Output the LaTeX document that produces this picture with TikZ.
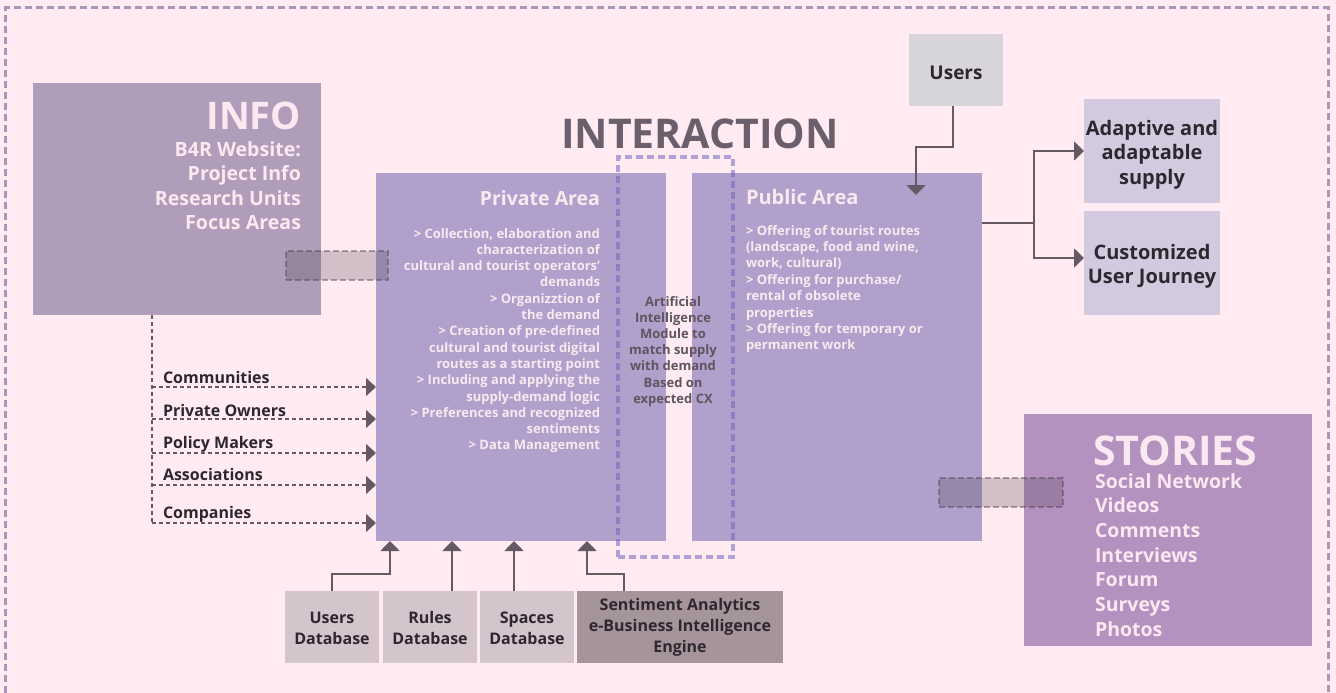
\documentclass[tikz,border=0pt]{standalone}
\usepackage{fontspec}
\setmainfont{Open Sans}
\usetikzlibrary{arrows.meta}
\definecolor{bgc}{HTML}{FFEBF1}
\definecolor{borderc}{HTML}{A898B8}
\definecolor{infoc}{HTML}{B09DB9}
\definecolor{areac}{HTML}{B1A0CB}
\definecolor{storyc}{HTML}{B392C0}
\definecolor{userc}{HTML}{D8D4DC}
\definecolor{resc}{HTML}{D3CAE0}
\definecolor{dbc}{HTML}{D4C4CC}
\definecolor{sentc}{HTML}{A59499}
\definecolor{arrowc}{HTML}{655A64}
\definecolor{darkt}{HTML}{2F2730}
\definecolor{titlet}{HTML}{6B5F6B}
\definecolor{lightt}{HTML}{FCE8F0}
\definecolor{ait}{HTML}{5E5560}
\definecolor{aidash}{RGB}{115,105,190}
\definecolor{overc}{RGB}{77,65,79}
\newcommand{\myfs}[2]{\fontsize{#1}{#2}\selectfont\bfseries}
\newcommand{\myRL}[1]{\begin{tabular}[t]{@{}r@{}}#1\end{tabular}}
\newcommand{\myLL}[1]{\begin{tabular}[t]{@{}l@{}}#1\end{tabular}}
\newcommand{\myCL}[1]{\begin{tabular}[t]{@{}c@{}}#1\end{tabular}}
\begin{document}
\begin{tikzpicture}[x=1pt,y=-1pt,
  box/.style={rectangle, inner sep=0pt, outer sep=0pt, draw=none},
  txt/.style={inner sep=0pt, outer sep=0pt},
  arr/.style={draw=arrowc, line width=1.8pt, -{Triangle[length=10pt,width=19pt]}},
  plainline/.style={draw=arrowc, line width=1.8pt},
  dashl/.style={draw=arrowc, line width=1.5pt, dash pattern=on 4pt off 3pt},
  dasharr/.style={dashl, -{Triangle[length=10pt,width=18pt]}},
  overlay/.style={box, fill=overc, fill opacity=0.25, draw=overc, draw opacity=0.45,
     dash pattern=on 6pt off 3pt, line width=1.5pt, minimum height=29pt}]
\path[fill=bgc] (0,0) rectangle (1336,693);
\useasboundingbox (0,0) rectangle (1336,693);
\draw[borderc, line width=3pt, dash pattern=on 7pt off 4pt] (5.7,693) -- (5.7,8) -- (1328,8) -- (1328,693);

% boxes
\node[box, fill=infoc, minimum width=288pt, minimum height=232pt] (info) at (177,199) {};
\node[box, fill=areac, minimum width=290pt, minimum height=368pt] (private) at (521,357) {};
\node[box, fill=areac, minimum width=290pt, minimum height=368pt] (public) at (837,357) {};
\node[box, fill=userc, minimum width=94pt, minimum height=72pt] (users) at (956,70) {};
\node[box, fill=resc, minimum width=136pt, minimum height=104pt] (adaptive) at (1152,151) {};
\node[box, fill=resc, minimum width=136pt, minimum height=104pt] (customized) at (1152,263) {};
\node[box, fill=storyc, minimum width=288pt, minimum height=232pt] (stories) at (1168,530) {};
\node[box, fill=dbc, minimum width=94pt, minimum height=72pt] (usersdb) at (332,627) {};
\node[box, fill=dbc, minimum width=94pt, minimum height=72pt] (rulesdb) at (430,627) {};
\node[box, fill=dbc, minimum width=94pt, minimum height=72pt] (spacesdb) at (527,627) {};
\node[box, fill=sentc, minimum width=206pt, minimum height=72pt] (sentiment) at (680,627) {};
\node[box, draw=aidash, draw opacity=0.56, line width=4pt, dash pattern=on 7pt off 4pt,
      minimum width=115pt, minimum height=400pt] (ai) at (675.5,357) {};

% texts
\node[txt, anchor=base east, text=lightt, font=\myfs{38}{38}] (infotitle) at (301,129) {INFO};
\node[txt, anchor=base east, text=lightt, font=\myfs{19.6}{24.5}] (infotext) at (301,156)
  {\myRL{B4R Website:\\Project Info\\Research Units\\Focus Areas}};
\node[txt, anchor=base, text=titlet, font=\myfs{41}{41}] (inter) at (700,148) {INTERACTION};
\node[txt, anchor=base east, text=lightt, font=\myfs{19.5}{19.5}] (privtitle) at (600,205) {Private Area};
\node[txt, anchor=base east, text=lightt, font=\myfs{13}{16.3}] (privtext) at (600,238)
  {\myRL{> Collection, elaboration and\\characterization of\\cultural and tourist operators'\\demands\\> Organizztion of\\the demand\\> Creation of pre-defined\\cultural and tourist digital\\routes as a starting point\\> Including and applying the\\supply-demand logic\\> Preferences and recognized\\sentiments\\> Data Management}};
\node[txt, anchor=base, text=ait, font=\myfs{13}{16.2}] (aitext) at (673,306)
  {\myCL{Artificial\\Intelligence\\Module to\\match supply\\with demand\\Based on\\expected CX}};
\node[txt, anchor=base west, text=lightt, font=\myfs{20}{20}] (pubtitle) at (746,204) {Public Area};
\node[txt, anchor=base west, text=lightt, font=\myfs{13}{16.4}] (pubtext) at (746,235)
  {\myLL{> Offering of tourist routes\\(landscape, food and wine,\\work, cultural)\\> Offering for purchase/\\rental of obsolete\\properties\\> Offering for temporary or\\permanent work}};
\node[txt, anchor=base, text=darkt, font=\myfs{19}{19}] (userstext) at (956,79) {Users};
\node[txt, anchor=base, text=darkt, font=\myfs{20}{24.5}] (adaptivetext) at (1152,135)
  {\myCL{Adaptive and\\adaptable\\supply}};
\node[txt, anchor=base, text=darkt, font=\myfs{20}{24.5}] (customtext) at (1152,259)
  {\myCL{Customized\\User Journey}};
\node[txt, anchor=base west, text=lightt, font=\myfs{41}{41}] (storiestitle) at (1093,465) {STORIES};
\node[txt, anchor=base west, text=lightt, font=\myfs{19.5}{24.7}] (storiestext) at (1095,488)
  {\myLL{Social Network\\Videos\\Comments\\Interviews\\Forum\\Surveys\\Photos}};
\node[txt, anchor=base west, text=darkt, font=\myfs{16}{16}] (lcomm) at (163,383) {Communities};
\node[txt, anchor=base west, text=darkt, font=\myfs{16}{16}] (lpriv) at (163,416) {Private Owners};
\node[txt, anchor=base west, text=darkt, font=\myfs{16}{16}] (lpol) at (163,448) {Policy Makers};
\node[txt, anchor=base west, text=darkt, font=\myfs{16}{16}] (lass) at (163,480) {Associations};
\node[txt, anchor=base west, text=darkt, font=\myfs{16}{16}] (lcomp) at (163,518) {Companies};
\node[txt, anchor=base, text=darkt, font=\myfs{16}{21}] (usersdbtext) at (332,623) {\myCL{Users\\Database}};
\node[txt, anchor=base, text=darkt, font=\myfs{16}{21}] (rulesdbtext) at (430,623) {\myCL{Rules\\Database}};
\node[txt, anchor=base, text=darkt, font=\myfs{16}{21}] (spacesdbtext) at (527,623) {\myCL{Spaces\\Database}};
\node[txt, anchor=base, text=darkt, font=\myfs{16}{21}] (senttext) at (680,610)
  {\myCL{Sentiment Analytics\\e-Business Intelligence\\Engine}};

% connectors
\coordinate (udown) at (916,195);
\draw[arr] ([xshift=-3pt]users.south) -- ++(0,41) -| (udown);

\coordinate (split) at (1034,223);
\draw[plainline] (split -| public.east) -- (split);
\draw[arr] (split) |- (adaptive.west);
\draw[arr] (split) |- ([yshift=5pt]customized.west);

\coordinate (lv0) at (152,315);
\coordinate (r1) at (152,387);
\coordinate (r2) at (152,419);
\coordinate (r3) at (152,453);
\coordinate (r4) at (152,485);
\coordinate (r5) at (152,523);
\draw[dashl] (lv0) -- (r5);
\foreach \r in {r1,r2,r3,r4,r5} \draw[dasharr] (\r) -- (\r -| private.west);

\coordinate (pb1) at (390,541);
\coordinate (pb4) at (587,541);
\draw[arr] (usersdb.north) -- ++(0,-17) -| (pb1);
\draw[arr] ([xshift=22pt]rulesdb.north) -- ([xshift=22pt]rulesdb.north |- private.south);
\draw[arr] ([xshift=-13pt]spacesdb.north) -- ([xshift=-13pt]spacesdb.north |- private.south);
\draw[arr] ([xshift=-56pt]sentiment.north) -- ++(0,-17) -| (pb4);

% translucent overlays
\node[overlay, minimum width=102pt] (ov1) at (337,265.5) {};
\node[overlay, minimum width=124pt] (ov2) at (1001,492.5) {};
\end{tikzpicture}
\end{document}
